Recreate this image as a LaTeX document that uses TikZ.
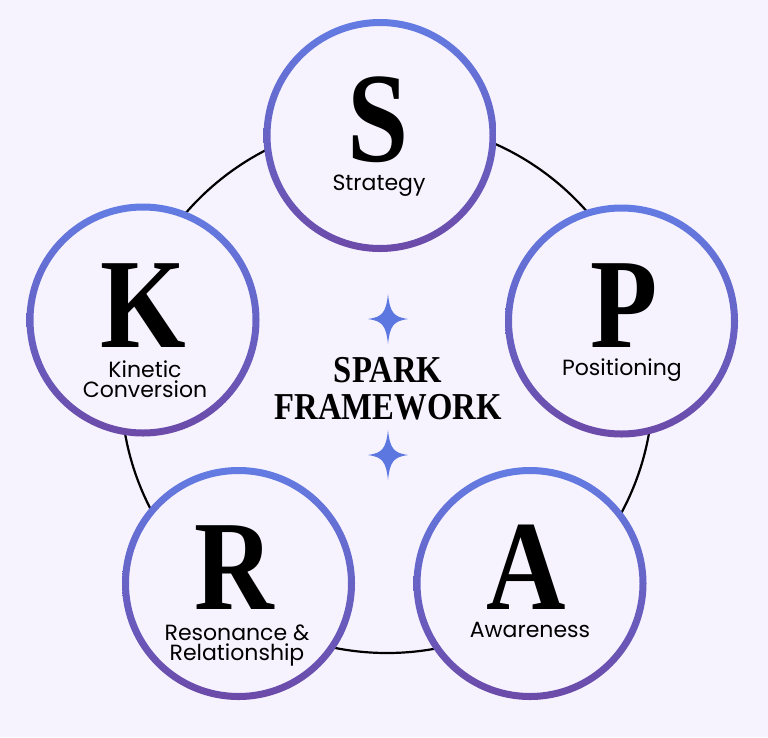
\documentclass[tikz,border=0pt]{standalone}
\usepackage{fontspec}
\newfontfamily\popfont{Poppins}
\newfontfamily\dispfont[FakeStretch=0.86]{Liberation Serif}
\definecolor{bg}{RGB}{246,243,254}
\definecolor{ringtop}{RGB}{99,124,227}
\definecolor{ringbot}{RGB}{108,74,168}
\definecolor{starblue}{RGB}{92,120,224}
\tikzset{
  bigletter/.style={anchor=base, inner sep=0pt, text depth=0pt, font=\dispfont\bfseries\fontsize{128}{128}\selectfont, text=black},
  lbl/.style={anchor=base, inner sep=0pt, font=\popfont\fontsize{22}{22}\selectfont, text=black},
  titletext/.style={anchor=base, inner sep=0pt, font=\dispfont\bfseries\fontsize{38}{38}\selectfont, text=black},
  starshape/.style={fill=starblue},
  bigring/.style={circle, draw=black, line width=2.2pt, minimum size=532pt, inner sep=0pt},
}
\begin{document}
\begin{tikzpicture}[x=1pt,y=-1pt]
\fill[bg] (0,0) rectangle (768,737);
\useasboundingbox (0,0) rectangle (768,737);
\node[bigring] (ring) at (387,387) {};
\coordinate (cS) at (380,135.5);
\coordinate (cP) at (621.5,321);
\coordinate (cA) at (530,583.5);
\coordinate (cR) at (238.5,583.5);
\coordinate (cK) at (143,320);
\foreach \c in {cS,cP,cA,cR,cK}{
  \fill[bg] (\c) circle[radius=112pt];
  \path[top color=ringtop, bottom color=ringbot, even odd rule] (\c) circle[radius=116.5pt] (\c) circle[radius=109.5pt];
}
% big letters
\node[bigletter] (S) at (378,161) {S};
\node[bigletter] (P) at (624,347) {P};
\node[bigletter] (A) at (526,609) {A};
\node[bigletter] (R) at (234,609) {R};
\node[bigletter] (K) at (143,347) {K};
% labels
\node[lbl] (lS) at (379,190) {Strategy};
\node[lbl] (lP) at (622,375) {Positioning};
\node[lbl] (lA) at (530,637) {Awareness};
\node[lbl] (lK1) at (145,377) {Kinetic};
\node[lbl] (lK2) at (145,397.5) {Conversion};
\node[lbl] (lR1) at (237,640) {Resonance \&};
\node[lbl] (lR2) at (237,660.5) {Relationship};
% title
\node[titletext] (t1) at (388,382) {SPARK};
\node[titletext] (t2) at (388,419) {FRAMEWORK};
% stars
\foreach \sy/\nm in {319/startop,455/starbot}{
  \coordinate (\nm) at (388,\sy);
  \fill[starshape, shift={(\nm)}] (0,-25) .. controls (2,-6) and (6,-2) .. (20,0)
     .. controls (6,2) and (2,6) .. (0,25)
     .. controls (-2,6) and (-6,2) .. (-20,0)
     .. controls (-6,-2) and (-2,-6) .. (0,-25) -- cycle;
}
\end{tikzpicture}
\end{document}
